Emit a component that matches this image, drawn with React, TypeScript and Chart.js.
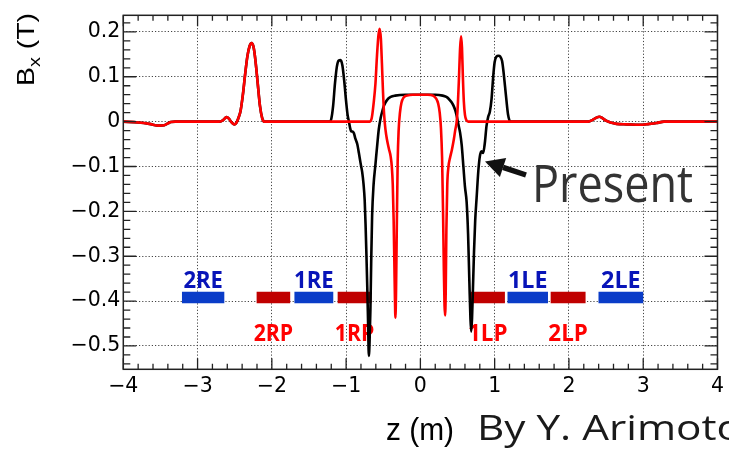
import React, { useEffect, useRef } from 'react';
import { Chart, registerables } from 'chart.js';

Chart.register(...registerables);

// ---- data ----
const redZ = [
  -4, -3.8, -3.65, -3.52, -3.45, -3.4, -3.36, -3.3, -2.72, -2.66, -2.61, -2.575, -2.55, -2.52, -2.5, -2.475,
  -2.45, -2.42, -2.39, -2.36, -2.33, -2.3, -2.272, -2.245, -2.22, -2.19, -2.16, -2.13, -2.1,
  -0.68, -0.655, -0.63, -0.605, -0.585, -0.565, -0.548, -0.532, -0.518, -0.503, -0.488, -0.47, -0.45, -0.425,
  -0.4, -0.385, -0.372, -0.36, -0.35, -0.342, -0.336, -0.328, -0.318, -0.306, -0.293, -0.275, -0.255, -0.225,
  -0.18, -0.1, 0, 0.1, 0.17, 0.21, 0.24, 0.26, 0.277, 0.292, 0.305, 0.316, 0.325, 0.333, 0.341, 0.35, 0.362,
  0.378, 0.4, 0.425, 0.45, 0.47, 0.489, 0.505, 0.52, 0.535, 0.548, 0.56, 0.572, 0.585, 0.6, 0.62, 0.646,
  2.26, 2.32, 2.37, 2.41, 2.45, 2.5, 2.56, 2.64, 2.78, 2.95, 3.08, 3.18, 3.28, 4,
];
const redBx = [
  0, -0.002, -0.005, -0.009, -0.008, -0.004, -0.001, 0, 0, 0.003, 0.01, 0.006, 0, -0.005, -0.006, -0.002,
  0.008, 0.025, 0.06, 0.105, 0.145, 0.168, 0.175, 0.165, 0.135, 0.085, 0.035, 0.008, 0,
  0, 0.008, 0.04, 0.085, 0.145, 0.192, 0.207, 0.185, 0.13, 0.065, 0.015, -0.018, -0.04, -0.06,
  -0.078, -0.1, -0.14, -0.22, -0.32, -0.4, -0.437, -0.38, -0.24, -0.09, -0.02, 0.02, 0.042, 0.054,
  0.058, 0.06, 0.06, 0.06, 0.058, 0.052, 0.04, 0.02, -0.015, -0.08, -0.2, -0.33, -0.41, -0.432, -0.38, -0.24, -0.14,
  -0.1, -0.08, -0.062, -0.04, -0.018, 0, 0.04, 0.1, 0.165, 0.19, 0.165, 0.1, 0.045, 0.015, 0.003, 0,
  0, 0.004, 0.009, 0.011, 0.008, 0.002, -0.002, -0.005, -0.006, -0.007, -0.005, -0.003, 0, 0,
];

const blackZ = [
  -4, -3.8, -3.65, -3.52, -3.45, -3.4, -3.36, -3.3, -2.72, -2.66, -2.61, -2.575, -2.55, -2.52, -2.5, -2.475,
  -2.45, -2.42, -2.39, -2.36, -2.33, -2.3, -2.272, -2.245, -2.22, -2.19, -2.16, -2.13, -2.1,
  -1.225, -1.2, -1.175, -1.15, -1.125, -1.1, -1.075, -1.05, -1.025, -1.0, -0.98, -0.962, -0.945, -0.93, -0.91,
  -0.895, -0.875, -0.85, -0.828, -0.806, -0.784, -0.765, -0.75, -0.738, -0.726, -0.715, -0.704, -0.694, -0.684,
  -0.673, -0.662, -0.65, -0.63, -0.605, -0.58, -0.56, -0.535, -0.515, -0.49, -0.45, -0.4, -0.34, -0.2, 0, 0.2,
  0.3, 0.35, 0.38, 0.42, 0.45, 0.47, 0.49, 0.51, 0.535, 0.556, 0.579, 0.6, 0.623, 0.642, 0.66, 0.674, 0.684,
  0.695, 0.708, 0.722, 0.738, 0.757, 0.78, 0.8, 0.822, 0.845, 0.868, 0.89, 0.912, 0.935, 0.958, 0.98, 1.0,
  1.025, 1.05, 1.075, 1.1, 1.12, 1.14, 1.16, 1.18, 1.21,
  2.26, 2.32, 2.37, 2.41, 2.45, 2.5, 2.56, 2.64, 2.78, 2.95, 3.08, 3.18, 3.28, 4,
];
const blackBx = [
  0, -0.002, -0.005, -0.009, -0.008, -0.004, -0.001, 0, 0, 0.003, 0.01, 0.006, 0, -0.005, -0.006, -0.002,
  0.008, 0.025, 0.06, 0.105, 0.145, 0.168, 0.175, 0.165, 0.135, 0.085, 0.035, 0.008, 0,
  0, 0.006, 0.035, 0.085, 0.122, 0.136, 0.137, 0.125, 0.09, 0.045, 0.015, 0, -0.015, -0.022, -0.022,
  -0.026, -0.038, -0.05, -0.07, -0.092, -0.112, -0.14, -0.175, -0.23, -0.3, -0.37, -0.45, -0.522, -0.49,
  -0.42, -0.31, -0.21, -0.14, -0.095, -0.05, -0.017, 0.008, 0.022, 0.036, 0.048, 0.055, 0.058, 0.06, 0.06, 0.06,
  0.058, 0.055, 0.051, 0.043, 0.034, 0.025, 0.012, -0.005, -0.025, -0.052, -0.1, -0.145, -0.18, -0.25, -0.36, -0.44, -0.468,
  -0.44, -0.37, -0.29, -0.22, -0.17, -0.11, -0.078, -0.066, -0.07, -0.047, -0.01, 0.01, 0.022, 0.05, 0.1, 0.133,
  0.145, 0.147, 0.145, 0.135, 0.11, 0.078, 0.045, 0.016, 0,
  0, 0.004, 0.009, 0.011, 0.008, 0.002, -0.002, -0.005, -0.006, -0.007, -0.005, -0.003, 0, 0,
];

const barNames = ['2RE', '2RP', '1RE', '1RP', '1LP', '1LE', '2LP', '2LE'];
const barKinds = ['E', 'P', 'E', 'P', 'P', 'E', 'P', 'E'];
const barStart = [-3.21, -2.205, -1.696, -1.114, 0.677, 1.173, 1.754, 2.398];
const barEnd = [-2.64, -1.753, -1.173, -0.658, 1.138, 1.718, 2.224, 3.0];
const barBx = -0.392;

const xTickValues = [-4, -3, -2, -1, 0, 1, 2, 3, 4];
const xTickLabels = ['\u22124', '\u22123', '\u22122', '\u22121', '0', '1', '2', '3', '4'];
const yTickValues = [-0.5, -0.4, -0.3, -0.2, -0.1, 0, 0.1, 0.2];
const yTickLabels = ['\u22120.5', '\u22120.4', '\u22120.3', '\u22120.2', '\u22120.1', '0', '0.1', '0.2'];
const xMin = -4, xMax = 4;
const yMin = -0.552, yMax = 0.237;

// ---- styles ----
const RED = '#ff0000';
const BLACK = '#000000';
const BAR_BLUE = '#0a3cc8';
const BAR_RED = '#c00000';
const LABEL_BLUE = '#0814b8';
const LABEL_RED = '#ff0000';

function fitText(ctx: CanvasRenderingContext2D, text: string, x: number, y: number, font: string, targetW: number, align: 'left' | 'center') {
  ctx.save();
  ctx.font = font;
  const w = ctx.measureText(text).width;
  const sx = targetW / w;
  ctx.translate(x, y);
  ctx.scale(sx, 1);
  ctx.textAlign = 'left';
  ctx.textBaseline = 'alphabetic';
  ctx.fillText(text, align === 'center' ? -w / 2 : 0, 0);
  ctx.restore();
}

const decor = {
  id: 'decor',
  beforeDatasetsDraw(chart: any) {
    const { ctx } = chart;
    const xs = chart.scales.x, ys = chart.scales.y;
    const yb = ys.getPixelForValue(barBx);
    barNames.forEach((name, i) => {
      const cx = (xs.getPixelForValue(barStart[i]) + xs.getPixelForValue(barEnd[i])) / 2;
      const isE = barKinds[i] === 'E';
      ctx.save();
      ctx.fillStyle = isE ? LABEL_BLUE : LABEL_RED;
      fitText(ctx, name, cx, isE ? yb - 9.5 : yb + 43.5, 'bold 24px "Open Sans"', 39.5, 'center');
      ctx.restore();
    });
  },
  afterDatasetsDraw(chart: any) {
    const { ctx, chartArea: a } = chart;
    const xs = chart.scales.x, ys = chart.scales.y;
    ctx.save();
    ctx.strokeStyle = '#222';
    ctx.lineWidth = 1.3;
    ctx.beginPath();
    for (let k = -20; k <= 20; k++) {
      const v = k * 0.2;
      const px = xs.getPixelForValue(v);
      const len = k % 5 === 0 ? 11 : 5.5;
      ctx.moveTo(px, a.bottom); ctx.lineTo(px, a.bottom - len);
      ctx.moveTo(px, a.top); ctx.lineTo(px, a.top + len);
    }
    for (let k = -27; k <= 11; k++) {
      const v = k * 0.02;
      const py = ys.getPixelForValue(v);
      const len = k % 5 === 0 ? 13 : 7;
      ctx.moveTo(a.left, py); ctx.lineTo(a.left + len, py);
      ctx.moveTo(a.right, py); ctx.lineTo(a.right - len, py);
    }
    ctx.stroke();
    ctx.lineWidth = 1.5;
    ctx.strokeRect(a.left, a.top, a.right - a.left, a.bottom - a.top);
    ctx.restore();
  },
  afterDraw(chart: any) {
    const { ctx } = chart;
    ctx.save();
    // y axis title: B_x (T)
    ctx.fillStyle = '#000';
    ctx.translate(33.5, 86);
    ctx.rotate(-Math.PI / 2);
    const big = '24px "Liberation Sans"', small = '17px "Liberation Sans"';
    ctx.font = big; const wB = ctx.measureText('B').width; const wT = ctx.measureText(' (T)').width;
    ctx.font = small; const wx = ctx.measureText('x').width;
    const sx = 73 / (wB + wx + wT);
    ctx.scale(sx, 1);
    ctx.font = big; ctx.fillText('B', 0, 0);
    ctx.font = small; ctx.fillText('x', wB, 6);
    ctx.font = big; ctx.fillText(' (T)', wB + wx, 0);
    ctx.restore();

    ctx.save();
    ctx.fillStyle = '#000';
    fitText(ctx, 'z (m)', 386, 439.5, '31px "Liberation Sans"', 68, 'left');
    ctx.fillStyle = '#1a1a1a';
    fitText(ctx, 'By Y. Arimoto', 477, 439.5, '35px "Open Sans"', 265, 'left');
    ctx.fillStyle = '#333';
    fitText(ctx, 'Present', 532, 201.5, '51px "Open Sans"', 161, 'left');
    // arrow
    const tip = { x: 485, y: 161.5 }, tail = { x: 526, y: 175 };
    const ang = Math.atan2(tip.y - tail.y, tip.x - tail.x);
    const hl = 19, hw = 10;
    const bx = tip.x - hl * Math.cos(ang), by = tip.y - hl * Math.sin(ang);
    ctx.strokeStyle = '#111'; ctx.fillStyle = '#111';
    ctx.lineWidth = 5.5; ctx.lineCap = 'butt';
    ctx.beginPath(); ctx.moveTo(tail.x, tail.y); ctx.lineTo(bx, by); ctx.stroke();
    ctx.beginPath();
    ctx.moveTo(tip.x, tip.y);
    ctx.lineTo(bx + hw * Math.sin(ang), by - hw * Math.cos(ang));
    ctx.lineTo(bx - hw * Math.sin(ang), by + hw * Math.cos(ang));
    ctx.closePath(); ctx.fill();
    ctx.restore();
  },
};

export default function App() {
  const ref = useRef<HTMLCanvasElement>(null);
  useEffect(() => {
    const canvas = ref.current!;
    const lineDs = (label: string, zs: number[], bs: number[], color: string) => ({
      label,
      data: zs.map((z, i) => ({ x: z, y: bs[i] })),
      borderColor: color,
      borderWidth: 2.6,
      pointRadius: 0,
      fill: false,
      cubicInterpolationMode: 'monotone' as const,
    });
    const chart = new Chart(canvas, {
      type: 'line',
      data: {
        datasets: [
          lineDs('New', redZ, redBx, RED),
          lineDs('Present', blackZ, blackBx, BLACK),
          ...barNames.map((n, i) => ({
            label: n,
            data: [{ x: barStart[i], y: barBx }, { x: barEnd[i], y: barBx }],
            borderColor: barKinds[i] === 'E' ? BAR_BLUE : BAR_RED,
            borderWidth: 11.5,
            borderCapStyle: 'butt' as const,
            pointRadius: 0,
            fill: false,
          })),
        ],
      },
      options: {
        responsive: false,
        animation: false,
        devicePixelRatio: 1,
        layout: { padding: { left: 0, top: 13.3, right: 8.7, bottom: 0 } },
        plugins: { legend: { display: false }, tooltip: { enabled: false } },
        scales: {
          x: {
            type: 'linear',
            min: xMin,
            max: xMax,
            afterBuildTicks: (s: any) => { s.ticks = xTickValues.map((v) => ({ value: v })); },
            afterFit: (s: any) => { s.height = 79.7; },
            ticks: {
              callback: (_v: any, i: number) => xTickLabels[i],
              font: { family: 'DejaVu Sans', size: 20.5 },
              color: '#000',
              padding: 5,
              maxRotation: 0,
              autoSkip: false,
            },
            grid: { color: '#444', lineWidth: 1, drawTicks: false },
            border: { display: false, dash: [1.2, 2] },
          },
          y: {
            type: 'linear',
            min: yMin,
            max: yMax,
            afterBuildTicks: (s: any) => { s.ticks = yTickValues.map((v) => ({ value: v })); },
            afterFit: (s: any) => { s.width = 123.3; },
            ticks: {
              callback: (_v: any, i: number) => yTickLabels[i],
              font: { family: 'DejaVu Sans', size: 20.5 },
              color: '#000',
              padding: 3,
              autoSkip: false,
            },
            grid: { color: '#444', lineWidth: 1, drawTicks: false },
            border: { display: false, dash: [1.2, 2] },
          },
        },
      },
      plugins: [decor],
    });
    return () => chart.destroy();
  }, []);
  return (
    <div style={{ position: 'absolute', left: 0, top: 0, width: 729, height: 449, background: '#fff' }}>
      <canvas ref={ref} width={729} height={449} style={{ display: 'block', width: 729, height: 449 }} />
    </div>
  );
}
